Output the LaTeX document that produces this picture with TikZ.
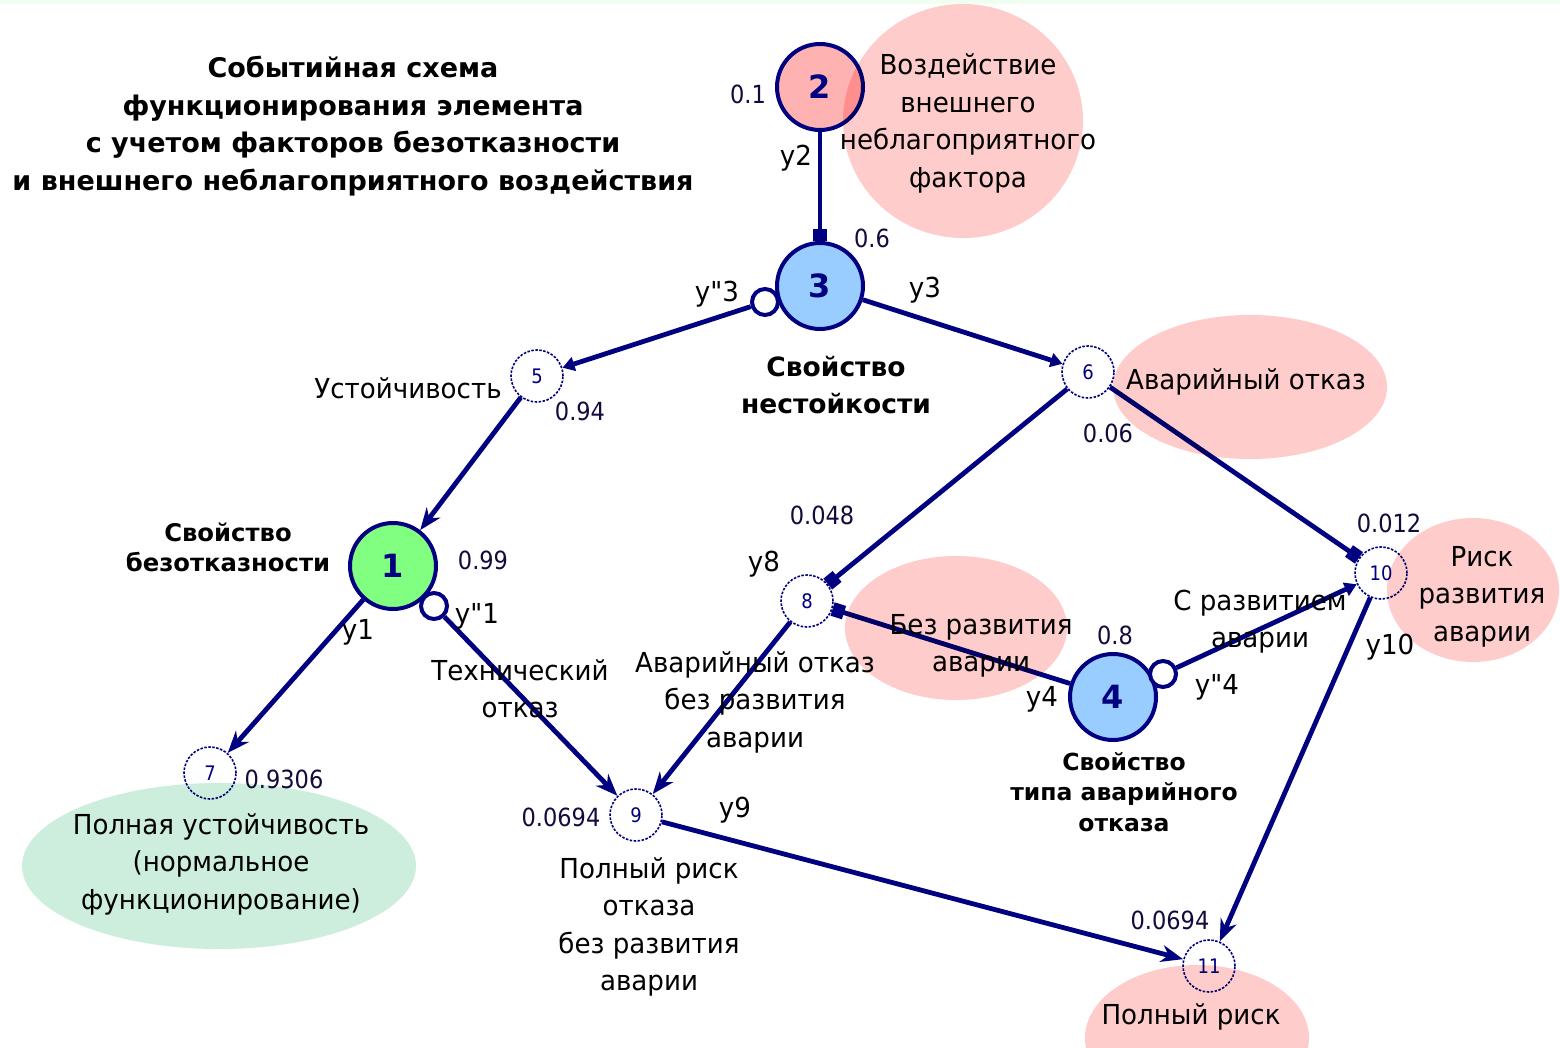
\documentclass[tikz,border=0pt]{standalone}
\usepackage{fontspec}
\setmainfont{DejaVu Sans}
\newfontfamily\narrowfam[FakeStretch=0.95]{DejaVu Sans}
\newfontfamily\numfam[FakeStretch=0.9]{DejaVu Sans}
\usetikzlibrary{arrows.meta}
\newcommand\txtReg{\narrowfam\fontsize{27.5}{37.5}\selectfont}
\newcommand\txtNum{\numfam\fontsize{25}{30}\selectfont}
\newcommand\txtBold{\bfseries\fontsize{23.5}{30.5}\selectfont}
\newcommand\txtTitle{\bfseries\fontsize{27}{37.5}\selectfont}
\definecolor{navy}{RGB}{0,0,128}
\definecolor{pinkbg}{RGB}{255,204,204}
\definecolor{greenbg}{RGB}{205,238,220}
\definecolor{topstrip}{RGB}{240,255,240}
\definecolor{nodepink}{RGB}{255,178,178}
\definecolor{nodeblue}{RGB}{153,204,255}
\definecolor{nodegreen}{RGB}{128,255,128}
\tikzset{
  bignode/.style={circle, draw=navy, line width=4pt, minimum size=86pt, inner sep=0pt,
    font=\bfseries\fontsize{32}{32}\selectfont, text=navy},
  smallnode/.style={circle, draw=navy, fill=white, line width=1.6pt, dash pattern=on 2.5pt off 1.5pt,
    minimum size=52pt, inner sep=0pt, font=\numfam\fontsize{20}{20}\selectfont, text=navy},
  bubble/.style={circle, draw=navy, fill=white, line width=4pt, minimum size=26pt, inner sep=0pt},
  edge/.style={draw=navy, line width=4.8pt},
  stl/.style={-{Stealth[length=22pt,width=17pt,inset=7pt]}},
  sqr/.style={-{Square[length=12pt,width=14pt]}},
  tri/.style={-{Triangle[length=12pt,width=14pt]}},
  lbl/.style={font=\txtReg, anchor=base, align=center, inner sep=0pt},
  numlbl/.style={font=\txtNum, anchor=base, inner sep=0pt, text={rgb,255:red,20;green,10;blue,60}},
  boldlbl/.style={font=\txtBold, anchor=base, align=center, inner sep=0pt},
}
\begin{document}
\begin{tikzpicture}[x=1pt,y=-1pt]
\fill[white] (0,0) rectangle (1560,1048);
\fill[topstrip] (0,0) rectangle (1560,4.5);
\useasboundingbox (0,0) rectangle (1560,1048);

% title (anchor base = baseline of the last line)
\node[font=\txtTitle, anchor=base, align=center, inner sep=0pt] (title) at (353,190.5)
  {Событийная схема\\функционирования элемента\\с учетом факторов безотказности\\и внешнего неблагоприятного воздействия};

% main state nodes
\node[bignode, fill=nodepink] (n2) at (820,87) {2};
\node[bignode, fill=nodeblue] (n3) at (820,286) {3};
\node[bignode, fill=nodegreen] (n1) at (393,566) {1};
\node[bignode, fill=nodeblue] (n4) at (1113,697) {4};

% negation bubbles
\node[bubble] (b3) at (765,302) {};
\node[bubble] (b1) at (434,606) {};
\node[bubble] (b4) at (1163,674) {};

% event nodes
\node[smallnode] (n5) at (537,376) {5};
\node[smallnode] (n6) at (1088,372) {6};
\node[smallnode] (n7) at (210,773) {7};
\node[smallnode] (n8) at (807,601) {8};
\node[smallnode] (n9) at (636,815) {9};
\node[smallnode] (n10) at (1381,573) {10};
\node[smallnode] (n11) at (1209,966) {11};

% connectors
\draw[edge,sqr] (n2) -- (n3);
\draw[edge,tri] (b3) -- (n5);
\draw[edge,tri] (n3) -- (n6);
\draw[edge,stl] (n5) -- (n1);
\draw[edge,stl] (n1) -- (n7);
\draw[edge,stl] (b1) -- (n9);
\draw[edge,sqr] (n6) -- (n8);
\draw[edge,sqr] (n6) -- (n10);
\draw[edge,sqr] (n4) -- (n8);
\draw[edge,tri] (b4) -- (n10);
\draw[edge,stl] (n8) -- (n9);
\draw[edge,stl] (n9) -- (n11);
\draw[edge,stl] (n10) -- (n11);

% labels (multi-line labels are placed by the baseline of their last line)
\node[lbl] (t2) at (968,187.5) {Воздействие\\внешнего\\неблагоприятного\\фактора};
\node[numlbl] (p2) at (748,104) {0.1};
\node[lbl] (y2) at (796,166) {y2};
\node[numlbl] (p3) at (872,248) {0.6};
\node[lbl] (yy3) at (717,302) {y"3};
\node[lbl] (y3) at (925,298) {y3};
\node[boldlbl, font=\bfseries\fontsize{26.5}{37}\selectfont] (t3) at (836,413) {Свойство\\нестойкости};
\node[lbl] (t5) at (408,398) {Устойчивость};
\node[numlbl] (p5) at (580,420) {0.94};
\node[lbl] (t6) at (1246,389) {Аварийный отказ};
\node[numlbl] (p6) at (1108,442) {0.06};
\node[numlbl] (p8) at (822,524) {0.048};
\node[lbl] (y8) at (764,571) {y8};
\node[boldlbl, font=\bfseries\fontsize{24.3}{30}\selectfont] (t1) at (228,571.5) {Свойство\\безотказности};
\node[numlbl] (p1) at (483,569) {0.99};
\node[lbl] (y1) at (358,639) {y1};
\node[lbl] (yy1) at (477,623) {y"1};
\node[lbl] (tt) at (520,717.5) {Технический\\отказ};
\node[lbl] (t8) at (755,747) {Аварийный отказ\\без развития\\аварии};
\node[lbl] (t48) at (981,671.5) {Без развития\\аварии};
\node[numlbl] (p4) at (1115,644) {0.8};
\node[lbl] (y4) at (1042,706) {y4};
\node[lbl] (yy4) at (1217,694) {y"4};
\node[lbl] (t410) at (1260,647.5) {С развитием\\аварии};
\node[numlbl] (p10) at (1389,532) {0.012};
\node[lbl] (t10) at (1482,641) {Риск\\развития\\аварии};
\node[lbl] (y10) at (1390,654) {y10};
\node[boldlbl] (t4) at (1124,831) {Свойство\\типа аварийного\\отказа};
\node[numlbl] (p7) at (284,788) {0.9306};
\node[lbl] (t7) at (221,909) {Полная устойчивость\\(нормальное\\функционирование)};
\node[numlbl] (p9) at (561,826) {0.0694};
\node[lbl] (y9) at (735,817) {y9};
\node[lbl] (t9) at (649,990.5) {Полный риск\\отказа\\без развития\\аварии};
\node[numlbl] (p11) at (1170,929) {0.0694};
\node[lbl] (t11) at (1191,1024) {Полный риск};

% highlight ellipses, multiplied over the drawing
\begin{scope}[blend mode=multiply]
  \fill[pinkbg] (963,121) ellipse [x radius=120, y radius=117];
  \fill[pinkbg] (1250,387) ellipse [x radius=137, y radius=72];
  \fill[pinkbg] (956,628) ellipse [x radius=111, y radius=72];
  \fill[pinkbg] (1473,590) ellipse [x radius=86, y radius=72];
  \fill[pinkbg] (1197,1038) ellipse [x radius=112, y radius=73];
  \fill[greenbg] (219,866) ellipse [x radius=197, y radius=83];
\end{scope}
\end{tikzpicture}
\end{document}
